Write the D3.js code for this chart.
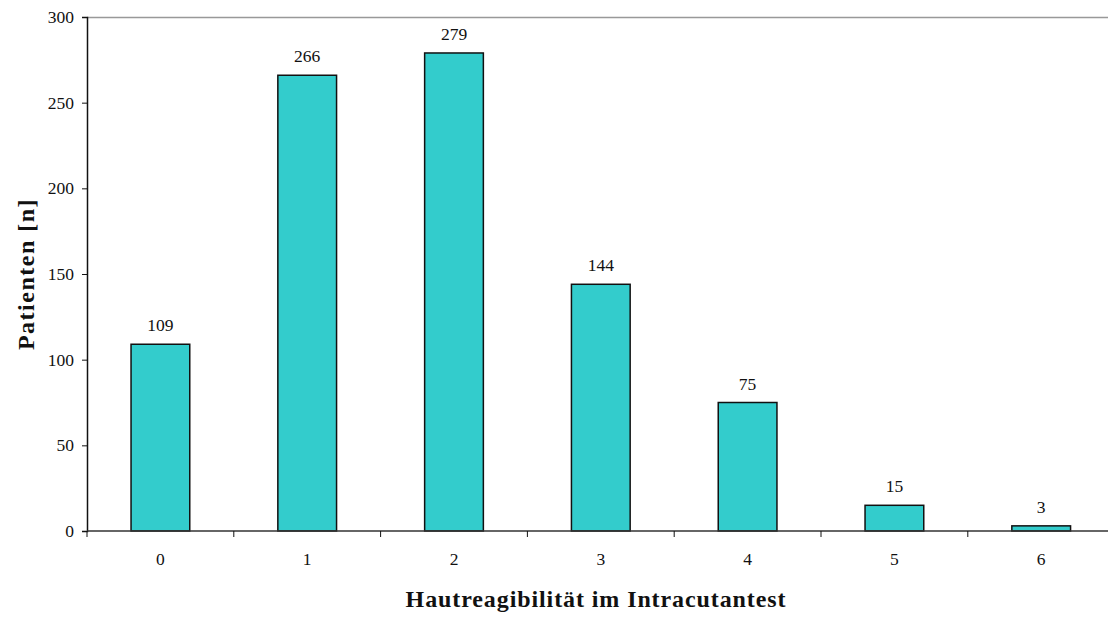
<!DOCTYPE html>
<html>
<head>
<meta charset="utf-8">
<script src="https://cdn.jsdelivr.net/npm/d3@7"></script>
<style>
  html, body { margin: 0; padding: 0; background: #fff; }
  svg { display: block; }
  text { font-family: "Liberation Serif", "DejaVu Serif", serif; fill: #111; }
</style>
</head>
<body>
<svg id="chart" width="1108" height="617"></svg>
<script>
// Reaktionsstufen im Intracutantest und Anzahl der Patienten
const categories = ["0", "1", "2", "3", "4", "5", "6"];
const patients = [109, 266, 279, 144, 75, 15, 3];
const yTicks = [0, 50, 100, 150, 200, 250, 300];

const svg = d3.select("#chart");
const plotLeft = 87, plotTop = 17, plotBottom = 531;
const step = 146.8;
const plotRight = plotLeft + step * categories.length;
const labelSize = 17.5;

const x = d3.scaleBand()
  .domain(categories)
  .range([plotLeft, plotRight])
  .paddingInner(0.6)
  .paddingOuter(0.3);

const y = d3.scaleLinear().domain([0, 300]).range([plotBottom, plotTop]);

// Obere Begrenzungslinie des Diagrammbereichs
svg.append("line")
  .attr("x1", plotLeft).attr("x2", 1108)
  .attr("y1", plotTop + 0.5).attr("y2", plotTop + 0.5)
  .attr("stroke", "#999").attr("stroke-width", 1.5);

// Balken
svg.append("g").selectAll("rect")
  .data(patients)
  .join("rect")
  .attr("x", (d, i) => x(categories[i]))
  .attr("width", x.bandwidth())
  .attr("y", d => y(d))
  .attr("height", d => y(0) - y(d))
  .attr("fill", "#33CCCC")
  .attr("stroke", "#111")
  .attr("stroke-width", 1.5);

// Wertebeschriftungen
svg.append("g").selectAll("text")
  .data(patients)
  .join("text")
  .attr("x", (d, i) => x(categories[i]) + x.bandwidth() / 2)
  .attr("y", d => y(d) - 13)
  .attr("text-anchor", "middle")
  .attr("font-size", labelSize)
  .text(d => d);

// Y-Achse
const yAxis = svg.append("g")
  .attr("transform", `translate(${plotLeft},0)`)
  .call(d3.axisLeft(y).tickValues(yTicks).tickSize(5).tickPadding(8));
yAxis.select(".domain").attr("stroke", "#111").attr("stroke-width", 1.5);
yAxis.selectAll(".tick line").attr("stroke", "#111");
yAxis.selectAll(".tick text")
  .attr("font-family", "Liberation Serif, serif")
  .attr("font-size", labelSize).attr("fill", "#111");

// X-Achse mit Teilstrichen an den Kategoriegrenzen
const xAxis = svg.append("g")
  .attr("transform", `translate(0,${plotBottom})`);
xAxis.append("line")
  .attr("x1", plotLeft).attr("x2", 1108)
  .attr("y1", 0).attr("y2", 0)
  .attr("stroke", "#333").attr("stroke-width", 1.5);
const boundaries = d3.range(categories.length + 1).map(i => plotLeft + i * step);
xAxis.selectAll("line.tick")
  .data(boundaries)
  .join("line")
  .attr("class", "tick")
  .attr("x1", d => d).attr("x2", d => d)
  .attr("y1", 0).attr("y2", 6)
  .attr("stroke", "#111");
xAxis.selectAll("text")
  .data(categories)
  .join("text")
  .attr("x", d => x(d) + x.bandwidth() / 2)
  .attr("y", 34)
  .attr("text-anchor", "middle")
  .attr("font-size", labelSize)
  .text(d => d);

// Achsentitel
svg.append("text")
  .attr("x", 596).attr("y", 607)
  .attr("text-anchor", "middle")
  .attr("font-size", 24)
  .attr("letter-spacing", 0.9)
  .attr("font-weight", "bold")
  .text("Hautreagibilität im Intracutantest");

svg.append("text")
  .attr("transform", `translate(34,274) rotate(-90)`)
  .attr("text-anchor", "middle")
  .attr("font-size", 24)
  .attr("letter-spacing", 1.5)
  .attr("font-weight", "bold")
  .text("Patienten [n]");
</script>
</body>
</html>
